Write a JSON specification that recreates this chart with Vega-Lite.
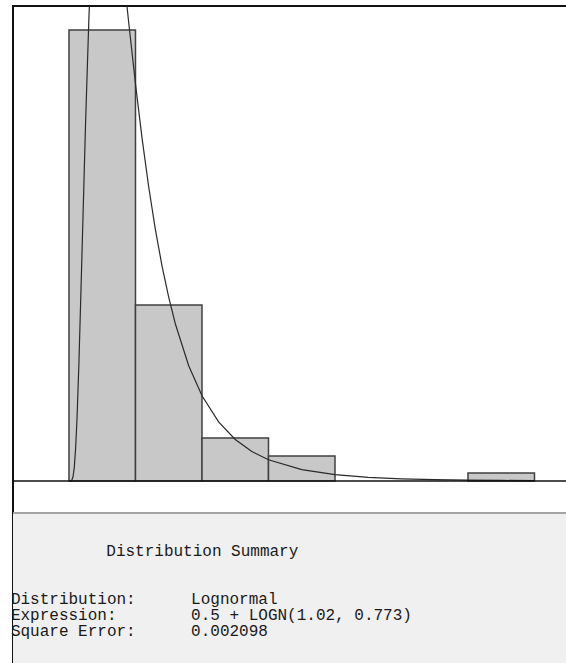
{
  "$schema": "https://vega.github.io/schema/vega-lite/v6.json",
  "autosize": {"type": "none"},
  "width": 556,
  "height": 660,
  "padding": {"left": 13, "top": 6, "right": 0, "bottom": 0},
  "background": "white",
  "config": {"view": {"stroke": "#111111", "strokeWidth": 2}},
  "datasets": {
    "bins": [
      {"bin_start": 0.5, "bin_end": 1.5, "rel_freq": 0.6415},
      {"bin_start": 1.5, "bin_end": 2.5, "rel_freq": 0.2504},
      {"bin_start": 2.5, "bin_end": 3.5, "rel_freq": 0.0612},
      {"bin_start": 3.5, "bin_end": 4.5, "rel_freq": 0.0356},
      {"bin_start": 6.5, "bin_end": 7.5, "rel_freq": 0.0114}
    ],
    "curve": [
      {"x": 0.5, "density": 0},
      {"x": 0.52, "density": 0.0000},
      {"x": 0.54, "density": 0.0007},
      {"x": 0.56, "density": 0.0056},
      {"x": 0.58, "density": 0.0198},
      {"x": 0.60, "density": 0.0468},
      {"x": 0.62, "density": 0.0874},
      {"x": 0.65, "density": 0.1697},
      {"x": 0.70, "density": 0.3392},
      {"x": 0.75, "density": 0.5119},
      {"x": 0.80, "density": 0.6603},
      {"x": 0.85, "density": 0.7738},
      {"x": 0.90, "density": 0.8506},
      {"x": 1.00, "density": 0.9130},
      {"x": 1.10, "density": 0.8916},
      {"x": 1.20, "density": 0.8253},
      {"x": 1.30, "density": 0.7400},
      {"x": 1.40, "density": 0.6505},
      {"x": 1.50, "density": 0.5648},
      {"x": 1.60, "density": 0.4867},
      {"x": 1.70, "density": 0.4175},
      {"x": 1.80, "density": 0.3573},
      {"x": 1.90, "density": 0.3054},
      {"x": 2.00, "density": 0.2611},
      {"x": 2.10, "density": 0.2233},
      {"x": 2.30, "density": 0.1640},
      {"x": 2.50, "density": 0.1212},
      {"x": 2.75, "density": 0.0840},
      {"x": 3.00, "density": 0.0590},
      {"x": 3.25, "density": 0.0419},
      {"x": 3.50, "density": 0.0302},
      {"x": 4.00, "density": 0.0162},
      {"x": 4.50, "density": 0.0090},
      {"x": 5.00, "density": 0.0052},
      {"x": 5.50, "density": 0.0031},
      {"x": 6.00, "density": 0.0019},
      {"x": 6.50, "density": 0.0012},
      {"x": 7.00, "density": 0.0008},
      {"x": 7.50, "density": 0.0005}
    ],
    "summary": [
      {"line": 3, "col": 9, "text": "Distribution Summary"},
      {"line": 6, "col": 0, "text": "Distribution:"},
      {"line": 6, "col": 17, "text": "Lognormal"},
      {"line": 7, "col": 0, "text": "Expression:"},
      {"line": 7, "col": 17, "text": "0.5 + LOGN(1.02, 0.773)"},
      {"line": 8, "col": 0, "text": "Square Error:"},
      {"line": 8, "col": 17, "text": "0.002098"}
    ]
  },
  "layer": [
    {
      "layer": [
        {
          "data": {"name": "bins"},
          "mark": {"type": "rect", "fill": "#c8c8c8", "stroke": "#404040", "strokeWidth": 1.5},
          "encoding": {
            "x": {"field": "bin_start", "type": "quantitative", "scale": {"domain": [-0.342, 8.019], "nice": false, "zero": false}, "axis": null},
            "x2": {"field": "bin_end"},
            "y": {"field": "rel_freq", "type": "quantitative", "scale": {"domain": [-0.2632, 0.6757], "nice": false, "zero": false}, "axis": null},
            "y2": {"datum": 0}
          }
        },
        {
          "data": {"name": "curve"},
          "mark": {"type": "line", "clip": true, "stroke": "#2a2a2a", "strokeWidth": 1.2},
          "encoding": {
            "x": {"field": "x", "type": "quantitative", "axis": null},
            "y": {"field": "density", "type": "quantitative", "axis": null}
          }
        },
        {
          "data": {"values": [{"baseline": 0}]},
          "mark": {"type": "rule", "stroke": "#111111", "strokeWidth": 1.6},
          "encoding": {
            "y": {"field": "baseline", "type": "quantitative", "axis": null}
          }
        }
      ]
    },
    {
      "data": {"name": "summary"},
      "layer": [
        {
          "mark": {"type": "rect", "fill": "#f0f0f0"},
          "encoding": {
            "y": {"datum": 0, "type": "quantitative", "scale": {"domain": [-31.6875, 9.5625], "reverse": true, "nice": false, "zero": false}, "axis": null},
            "y2": {"datum": 9.5625}
          }
        },
        {
          "mark": {"type": "rule", "stroke": "#a3a3a3", "strokeWidth": 2},
          "encoding": {
            "y": {"datum": 0, "type": "quantitative", "axis": null}
          }
        },
        {
          "mark": {"type": "text", "align": "left", "baseline": "middle", "dy": -10, "font": "Liberation Mono", "fontSize": 16, "color": "#1a1a1a"},
          "encoding": {
            "x": {"field": "col", "type": "quantitative", "scale": {"domain": [0.2, 52.65], "nice": false, "zero": false}, "axis": null},
            "y": {"field": "line", "type": "quantitative", "axis": null},
            "text": {"field": "text"}
          }
        }
      ]
    }
  ],
  "resolve": {"scale": {"x": "independent", "y": "independent"}}
}
